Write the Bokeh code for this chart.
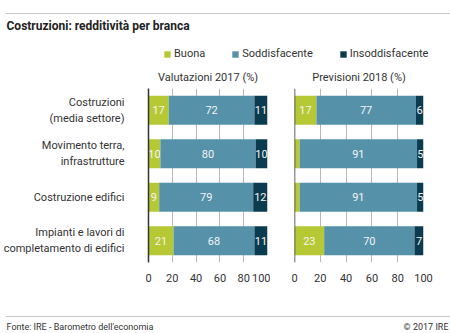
from bokeh.plotting import figure
from bokeh.layouts import column, row
from bokeh.models import (ColumnDataSource, FactorRange, Range1d, FixedTicker,
                          Legend, LegendItem, Span)
from bokeh.core.properties import value
from bokeh.embed import file_html
from bokeh.resources import INLINE
import numpy as np

# ---------------- data ----------------
categories = ["Costruzioni\n(media settore)", "Movimento terra,\ninfrastrutture",
              "Costruzione edifici", "Impianti e lavori di\ncompletamento di edifici"]
series_names = ["Buona", "Soddisfacente", "Insoddisfacente"]
val2017_buona = [17, 10, 9, 21]
val2017_sodd = [72, 80, 79, 68]
val2017_insodd = [11, 10, 12, 11]
prev2018_buona = [17, 4, 4, 23]
prev2018_sodd = [77, 91, 91, 70]
prev2018_insodd = [6, 5, 5, 7]
x_ticks = [0, 20, 40, 60, 80, 100]

title_text = "Costruzioni: redditività per branca"
panel_titles = ["Valutazioni 2017 (%)", "Previsioni 2018 (%)"]
source_text = "Fonte: IRE - Barometro dell'economia"
copyright_text = "© 2017 IRE"

colors = ["#b6c935", "#5591a9", "#0b3b4f"]
FONT = "Roboto"
TXT = "#333333"
W = 450


def panel(buona, sodd, insodd, title, width, bl, br, show_labels):
    p = figure(width=width, height=228, y_range=FactorRange(*categories[::-1]),
               x_range=Range1d(0, 100), output_backend="svg", toolbar_location=None,
               min_border_left=bl, min_border_right=br, min_border_top=26,
               min_border_bottom=28, outline_line_color=None, background_fill_color="white",
               border_fill_color="white")
    p.title.text = title
    p.title.align = "center"
    p.title.text_font = FONT
    p.title.text_font_style = "normal"
    p.title.text_font_size = "11px"
    p.title.text_color = TXT
    p.title.offset = 5
    vals = np.array([buona, sodd, insodd], dtype=float)
    starts = np.vstack([np.zeros(len(categories)), np.cumsum(vals, axis=0)[:-1]])
    for i in range(3):
        src = ColumnDataSource(dict(y=categories, left=starts[i], right=starts[i] + vals[i],
                                    mid=starts[i] + vals[i] / 2,
                                    lab=[str(int(v)) if v >= 5 else "" for v in vals[i]]))
        p.hbar(y="y", left="left", right="right", height=0.67, source=src,
               fill_color=colors[i], line_color=None)
        p.text(x="mid", y="y", text="lab", source=src, text_align="center",
               text_baseline="middle", text_color="#f4f4f4", text_font=value(FONT),
               text_font_size="11px")
    p.xaxis.ticker = FixedTicker(ticks=x_ticks)
    p.xaxis.axis_line_color = None
    p.xaxis.major_tick_line_color = None
    p.xaxis.minor_tick_line_color = None
    p.xaxis.major_label_text_font = FONT
    p.xaxis.major_label_text_font_size = "11px"
    p.xaxis.major_label_text_color = TXT
    p.xaxis.major_label_standoff = 5
    p.ygrid.grid_line_color = None
    p.xgrid.ticker = FixedTicker(ticks=x_ticks)
    p.xgrid.grid_line_color = "#b8b8b8"
    p.xgrid.grid_line_width = 1
    if show_labels:
        p.yaxis.axis_line_color = "#333333"
        p.yaxis.axis_line_width = 1.5
        p.yaxis.major_tick_line_color = None
        p.yaxis.minor_tick_line_color = None
        p.yaxis.major_label_text_font = FONT
        p.yaxis.major_label_text_font_size = "11px"
        p.yaxis.major_label_text_color = TXT
        p.yaxis.major_label_standoff = 18
        p.yaxis.major_label_text_align = "right"
    else:
        p.yaxis.visible = False
        p.add_layout(Span(location=0, dimension="height", line_color="#333333",
                          line_width=1.5))
    return p


left = panel(val2017_buona, val2017_sodd, val2017_insodd, panel_titles[0], 270, 138, 3, True)
right = panel(prev2018_buona, prev2018_sodd, prev2018_insodd, panel_titles[1], 180, 24, 27, False)

# ---------------- header ----------------
h = figure(width=W, height=62, x_range=Range1d(0, W), y_range=Range1d(62, 0),
           output_backend="svg", toolbar_location=None, min_border=0,
           outline_line_color=None)
h.axis.visible = False
h.grid.visible = False
h.segment(x0=[5], y0=[13], x1=[W], y1=[13], line_color="#c8c8c8", line_width=1)
h.text(x=[6], y=[25], text=[title_text], text_font=value(FONT), text_font_style="bold",
       text_font_size="12px", text_color="#222222", text_baseline="middle")
items = []
for name, c in zip(series_names, colors):
    # legend-only renderers, placed outside the visible range
    r = h.quad(left=[-100], right=[-90], bottom=[-100], top=[-90], fill_color=c,
               line_color=None)
    items.append(LegendItem(label=name, renderers=[r]))
leg = Legend(items=items, orientation="horizontal", location=(163, 2), spacing=26,
             glyph_width=8, glyph_height=8, label_standoff=3, padding=0, margin=0,
             border_line_color=None, background_fill_alpha=0,
             label_text_font=FONT, label_text_font_size="11px", label_text_color=TXT)
h.add_layout(leg)

# ---------------- footer ----------------
f = figure(width=W, height=43, x_range=Range1d(0, W), y_range=Range1d(43, 0),
           output_backend="svg", toolbar_location=None, min_border=0,
           outline_line_color=None)
f.axis.visible = False
f.grid.visible = False
f.segment(x0=[5], y0=[26], x1=[W], y1=[26], line_color="#c8c8c8", line_width=1)
f.text(x=[6], y=[36], text=[source_text], text_font=value(FONT), text_font_size="9px",
       text_color=TXT, text_baseline="middle")
f.text(x=[448], y=[36], text=[copyright_text], text_font=value(FONT), text_font_size="9px",
       text_color=TXT, text_baseline="middle", text_align="right")

p = column(h, row(left, right, spacing=0), f, spacing=0)
open("out.html", "w").write(file_html(p, INLINE))
